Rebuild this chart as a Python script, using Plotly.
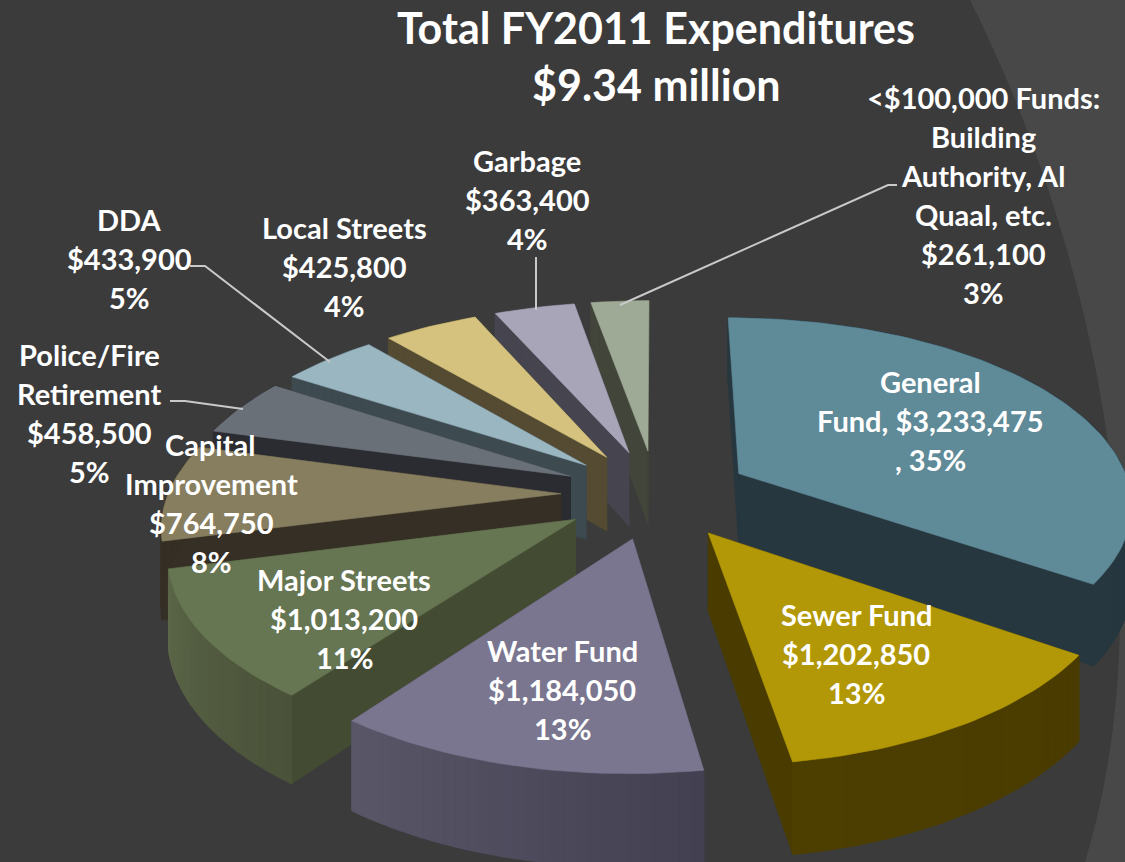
import math
import plotly.graph_objects as go

funds = ["General Fund", "Sewer Fund", "Water Fund", "Major Streets", "Capital Improvement",
         "Police/Fire Retirement", "DDA", "Local Streets", "Garbage", "<$100,000 Funds"]
values = [3233475, 1202850, 1184050, 1013200, 764750, 458500, 433900, 425800, 363400, 261100]
top_colors = ["#5f8a98", "#b29807", "#7a768f", "#667552", "#877e60",
              "#6a7078", "#9ab6c1", "#d4c27e", "#a9a5b8", "#9ea996"]
wall_colors = ["#26373f", "#4a3c00", "#4f4c60", "#444b33", "#352f25",
               "#2b2c31", "#3d4a50", "#544b32", "#46454f", "#42463a"]
rim_start = ["#26373f", "#4a3c00", "#434052", "#4a5239", "#352f25",
             "#2b2c31", "#3d4a50", "#544b32", "#46454f", "#42463a"]
rim_end = ["#26373f", "#4d3f00", "#5a5769", "#5c6749", "#352f25",
           "#2b2c31", "#3d4a50", "#544b32", "#46454f", "#42463a"]

# (text, centre x, centre y, font size)
text_lines = [
    ("Total FY2011 Expenditures", 656, 28, 43), ("$9.34 million", 656, 85, 43),
    ("General", 930, 382, 29), ("Fund, $3,233,475", 930, 421, 29), (", 35%", 930, 460, 29),
    ("Sewer Fund", 856, 615, 29), ("$1,202,850", 856, 654, 29), ("13%", 856, 693, 29),
    ("Water Fund", 562, 651, 29), ("$1,184,050", 562, 690, 29), ("13%", 562, 729, 29),
    ("Major Streets", 344, 580, 29), ("$1,013,200", 344, 619, 29), ("11%", 344, 658, 29),
    ("Capital", 210, 445, 29), ("Improvement", 211, 484, 29), ("$764,750", 211, 523, 29), ("8%", 211, 562, 29),
    ("Police/Fire", 89, 355, 29), ("Retirement", 89, 394, 29), ("$458,500", 89, 433, 29), ("5%", 89, 472, 29),
    ("DDA", 129, 220, 29), ("$433,900", 129, 259, 29), ("5%", 129, 298, 29),
    ("Local Streets", 344, 228, 29), ("$425,800", 344, 267, 29), ("4%", 344, 306, 29),
    ("Garbage", 527, 161, 29), ("$363,400", 527, 200, 29), ("4%", 527, 239, 29),
    ("<$100,000 Funds:", 983, 98, 29), ("Building", 983, 137, 29), ("Authority, Al", 983, 176, 29),
    ("Quaal, etc.", 983, 215, 29), ("$261,100", 983, 254, 29), ("3%", 983, 293, 29),
]
leaders = [
    ([620, 888, 897], [305, 185, 185]),
    ([190, 205, 330], [266, 266, 362]),
    ([170, 185, 243], [401, 401, 409]),
    ([536, 536], [257, 310]),
]

CX, CY, K, P, R, EXPLODE, DEPTH = 656, 494, 0.47, 0.00038, 393, 95, 76


def project(X, Y, down=0.0):
    s = 1 / (1 - P * Y)
    return CX + X * s, CY + K * Y * s + down * s


def hex_rgb(c):
    return [int(c[i:i + 2], 16) for i in (1, 3, 5)]


def mix(a, b, t):
    pa, pb = hex_rgb(a), hex_rgb(b)
    return "rgb(%d,%d,%d)" % tuple(round(u + (v - u) * t) for u, v in zip(pa, pb))


def rim_point(angle):
    r = math.radians(angle)
    return R * math.sin(r), -R * math.cos(r)


def poly(fig, xs, ys, color, name, lw=0.6):
    fig.add_trace(go.Scatter(x=xs, y=ys, mode="lines", fill="toself", fillcolor=color,
                             line=dict(color=color, width=lw), name=name,
                             hoverinfo="name", showlegend=False))


total = sum(values)
slices = []
start = 0.0
for i, v in enumerate(values):
    sweep = 360.0 * v / total
    mid = math.radians(start + sweep / 2)
    ax, ay = EXPLODE * math.sin(mid), -EXPLODE * math.cos(mid)
    mx, my = rim_point(start + sweep / 2)
    slices.append((ay + my, i, start, sweep, ax, ay))
    start += sweep

fig = go.Figure()
for _, i, a0, sweep, ax, ay in sorted(slices):
    steps = max(6, int(sweep / 1.5))
    angles = [a0 + sweep * j / steps for j in range(steps + 1)]
    rim = [(ax + rim_point(a)[0], ay + rim_point(a)[1]) for a in angles]
    name = f"{funds[i]}: ${values[i]:,}"
    # radial cut faces
    for (gx, gy) in (rim[0], rim[-1]):
        pts = [project(ax, ay), project(gx, gy), project(gx, gy, DEPTH), project(ax, ay, DEPTH)]
        poly(fig, [p[0] for p in pts] + [pts[0][0]], [p[1] for p in pts] + [pts[0][1]], wall_colors[i], name)
    # outer rim, shaded piece by piece
    for j in range(steps):
        g0, g1 = rim[j], rim[j + 1]
        pts = [project(*g0), project(*g1), project(*g1, DEPTH), project(*g0, DEPTH)]
        poly(fig, [p[0] for p in pts] + [pts[0][0]], [p[1] for p in pts] + [pts[0][1]],
             mix(rim_start[i], rim_end[i], j / steps), name, lw=1.2)
    # top surface
    pts = [project(ax, ay)] + [project(*g) for g in rim]
    poly(fig, [p[0] for p in pts] + [pts[0][0]], [p[1] for p in pts] + [pts[0][1]], top_colors[i], name)

for lx, ly in leaders:
    fig.add_trace(go.Scatter(x=lx, y=ly, mode="lines", line=dict(color="#c9c9c9", width=2),
                             hoverinfo="skip", showlegend=False))

for text, x, y, size in text_lines:
    fig.add_annotation(x=x, y=y - 1, text=text, showarrow=False, xanchor="center", yanchor="middle",
                       font=dict(family="Lato", size=size, color="#ffffff", weight="bold"))

fig.update_layout(
    width=1125, height=862, margin=dict(l=0, r=0, t=0, b=0),
    paper_bgcolor="#3b3b3b", plot_bgcolor="#3b3b3b", showlegend=False,
    xaxis=dict(visible=False, range=[0, 1125], fixedrange=True),
    yaxis=dict(visible=False, range=[862, 0], fixedrange=True),
    shapes=[dict(type="path", layer="below", xref="x", yref="y",
                 path="M 970 0 C 1100 260 1165 600 1085 862 L 1125 862 L 1125 0 Z",
                 fillcolor="#484848", line=dict(width=0))],
)
fig.write_html("out.html", config={"displayModeBar": False},
               post_script="document.body.style.margin='0';document.body.style.overflow='hidden';")
